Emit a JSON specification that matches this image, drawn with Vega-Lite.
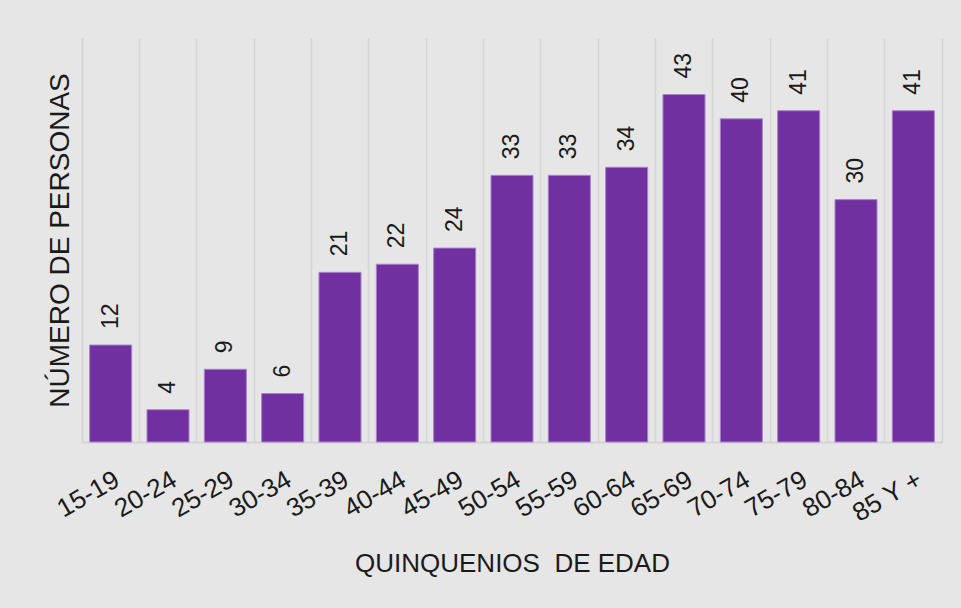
{
  "$schema": "https://vega.github.io/schema/vega-lite/v6.json",
  "width": 860,
  "height": 404,
  "autosize": {"type": "none"},
  "padding": {"left": 82, "top": 38, "right": 19, "bottom": 166},
  "background": "#e6e6e6",
  "config": {
    "view": {"stroke": null},
    "font": "Liberation Sans",
    "axis": {"labelFont": "Liberation Sans", "titleFont": "Liberation Sans", "titleFontWeight": "normal", "labelColor": "#1a1a1a", "titleColor": "#1a1a1a"}
  },
  "data": {
    "values": [
      {"edad": "15-19", "n": 12},
      {"edad": "20-24", "n": 4},
      {"edad": "25-29", "n": 9},
      {"edad": "30-34", "n": 6},
      {"edad": "35-39", "n": 21},
      {"edad": "40-44", "n": 22},
      {"edad": "45-49", "n": 24},
      {"edad": "50-54", "n": 33},
      {"edad": "55-59", "n": 33},
      {"edad": "60-64", "n": 34},
      {"edad": "65-69", "n": 43},
      {"edad": "70-74", "n": 40},
      {"edad": "75-79", "n": 41},
      {"edad": "80-84", "n": 30},
      {"edad": "85 Y +", "n": 41}
    ]
  },
  "encoding": {
    "x": {
      "field": "edad",
      "type": "nominal",
      "sort": null,
      "scale": {"paddingInner": 0, "paddingOuter": 0},
      "axis": {
        "title": "QUINQUENIOS\u00a0 DE EDAD",
        "titleFontSize": 26,
        "titleY": 129,
        "titleBaseline": "alphabetic",
        "labelAngle": -30,
        "labelAlign": "right",
        "labelBaseline": "top",
        "labelFontSize": 26,
        "labelPadding": 24,
        "ticks": false,
        "grid": true,
        "bandPosition": 0,
        "gridColor": "#d4d4d4",
        "gridWidth": 1.5,
        "domainColor": "#d4d4d4",
        "domainWidth": 2
      }
    },
    "y": {
      "field": "n",
      "type": "quantitative",
      "scale": {"domain": [0, 50], "nice": false}
    }
  },
  "layer": [
    {
      "mark": {"type": "bar", "width": {"band": 0.733}, "fill": "#7030a0", "stroke": "#a883cc", "strokeWidth": 1},
      "encoding": {
        "y": {
          "field": "n",
          "type": "quantitative",
          "axis": {
            "title": "NÚMERO DE PERSONAS",
            "titleFontSize": 28,
            "titleX": -22,
            "titleBaseline": "middle",
            "titleAlign": "center",
            "labels": false,
            "ticks": false,
            "grid": false,
            "domainColor": "#d4d4d4",
            "domainWidth": 1.5
          }
        }
      }
    },
    {
      "mark": {"type": "text", "angle": -90, "align": "left", "baseline": "middle", "dx": 16, "fontSize": 23, "color": "#1a1a1a", "font": "Liberation Sans"},
      "encoding": {
        "text": {"field": "n", "type": "quantitative"},
        "y": {
          "field": "n",
          "type": "quantitative",
          "axis": {
            "orient": "right",
            "title": null,
            "labels": false,
            "ticks": false,
            "grid": false,
            "domainColor": "#d4d4d4",
            "domainWidth": 1.5
          }
        }
      }
    }
  ],
  "resolve": {"axis": {"y": "independent"}}
}
